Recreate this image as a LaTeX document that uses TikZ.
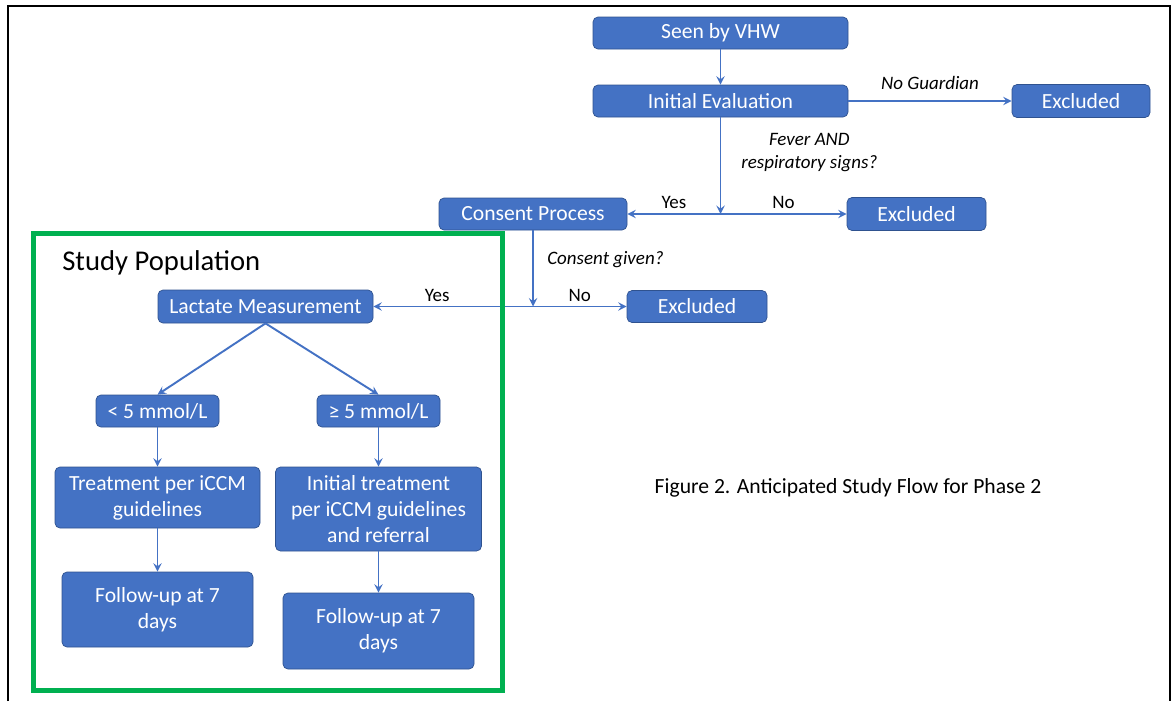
\documentclass[tikz,border=0pt]{standalone}
\usepackage{fontspec}
\setmainfont{Carlito}
\usetikzlibrary{arrows}
\definecolor{boxblue}{HTML}{4472C4}
\definecolor{boxedge}{HTML}{2F528F}
\definecolor{popgreen}{HTML}{00B050}
\tikzstyle{arrow} = [line width=1.1pt, draw=boxblue, ->, >=stealth]
\tikzstyle{box} = [draw=boxedge, fill=boxblue, text=white, rounded corners=0.1cm, align=center, inner sep=2pt, font=\fontsize{12.3}{14.8}\selectfont]
\tikzstyle{lbl} = [font=\fontsize{10.8}{13}\selectfont]
\tikzstyle{cond} = [font=\fontsize{10.8}{13}\selectfont\itshape, align=center]

\begin{document}
\begin{tikzpicture}
    \useasboundingbox (0,0) rectangle (23.44,-14.02);
    \draw [line width=1.4pt] (0.16,-14.02) -- (0.16,-0.12) -- (23.4,-0.12) -- (23.4,-14.02);
    % screening
    \node (sv)  [box, minimum width=5.1cm, minimum height=0.64cm] at (14.41,-0.66) {Seen by VHW};
    \node (ie)  [box, minimum width=5.1cm, minimum height=0.64cm, node distance=1.36cm, below of=sv] {Initial Evaluation};
    \node (ex1) [box, minimum width=2.76cm, minimum height=0.66cm, node distance=7.21cm, right of=ie] {Excluded};
    \node (cp)  [box, minimum width=3.76cm, minimum height=0.64cm] at (10.66,-4.28) {Consent Process};
    \node (ex2) [box, minimum width=2.78cm, minimum height=0.66cm, node distance=7.67cm, right of=cp] {Excluded};
    \node (lm)  [box, minimum width=4.3cm, minimum height=0.66cm] at (5.31,-6.13) {Lactate Measurement};
    \node (ex3) [box, minimum width=2.8cm, minimum height=0.64cm, node distance=8.63cm, right of=lm] {Excluded};
    % study population
    \node (sp)  [anchor=west, inner sep=0pt, font=\fontsize{16.3}{19.5}\selectfont] at (1.24,-5.26) {Study Population};
    \node (lo)  [box, minimum width=2.46cm, minimum height=0.64cm] at (3.15,-8.22) {< 5 mmol/L};
    \node (hi)  [box, minimum width=2.46cm, minimum height=0.64cm, node distance=4.42cm, right of=lo] {≥ 5 mmol/L};
    \node (tr1) [box, minimum width=4.1cm, minimum height=1.22cm, node distance=1.73cm, below of=lo] {Treatment per iCCM\\guidelines};
    \node (tr2) [box, minimum width=4.12cm, minimum height=1.68cm, node distance=1.96cm, below of=hi] {Initial treatment\\per iCCM guidelines\\and referral};
    \node (fu1) [box, minimum width=3.82cm, minimum height=1.5cm, node distance=2.24cm, below of=tr1] {Follow-up at 7\\days};
    \node (fu2) [box, minimum width=3.82cm, minimum height=1.52cm, node distance=2.44cm, below of=tr2] {Follow-up at 7\\days};
    \node (cap) [font=\fontsize{12.3}{14.8}\selectfont] at (16.96,-9.76) {Figure 2. Anticipated Study Flow for Phase 2};
    % connectors
    \coordinate (j1) at (ie |- cp);
    \coordinate (j2) at (cp |- lm);
    \draw [arrow] (sv) -- (ie);
    \draw [arrow] (ie) -- (ex1) node[midway, above=2.5pt, cond] {No Guardian};
    \draw [arrow] (ie) -- (j1) node[pos=0.36, right=0.28cm, cond] {Fever AND\\respiratory signs?};
    \draw [arrow] (j1) -- (cp) node[midway, above=-1pt, lbl] {Yes};
    \draw [arrow] (j1) -- (ex2) node[midway, above=-1pt, lbl] {No};
    \draw [arrow] (cp) -- (j2) node[pos=0.38, right=0.15cm, cond] {Consent given?};
    \draw [arrow] (j2) -- (lm) node[pos=0.6, above=-1pt, lbl] {Yes};
    \draw [arrow] (j2) -- (ex3) node[midway, above=-1pt, lbl] {No};
    \draw [arrow] (lm.south) -- (lo.north);
    \draw [arrow] (lm.south) -- (hi.north);
    \draw [arrow] (lo) -- (tr1);
    \draw [arrow] (hi) -- (tr2);
    \draw [arrow] (tr1) -- (fu1);
    \draw [arrow] (tr2) -- (fu2);
    \draw [popgreen, line width=0.1cm] (0.66,-4.66) rectangle (10.04,-13.8);
\end{tikzpicture}
\end{document}
